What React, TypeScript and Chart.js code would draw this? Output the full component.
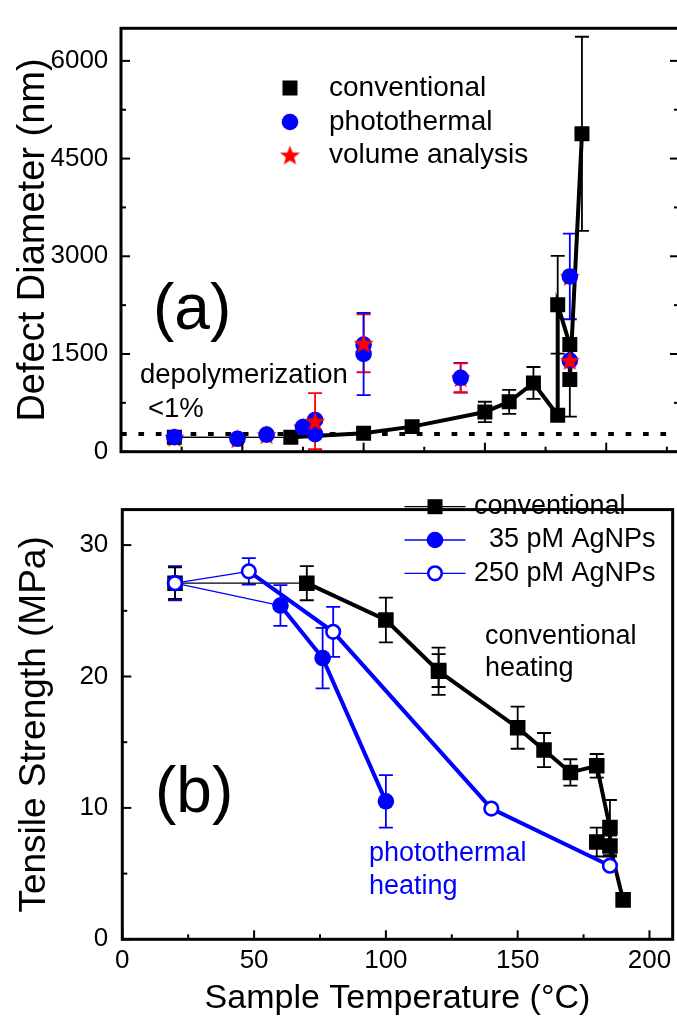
import React, { useEffect, useRef } from 'react';
import { Chart, registerables } from 'chart.js';

Chart.register(...registerables);

const FONT = '"Liberation Sans", Arial, Helvetica, sans-serif';
const BLUE = '#0000ff';
const RED = '#ff0000';
const BLACK = '#000000';

// ---------- Panel (a): defect diameter (nm) vs temperature ----------
const topConvT = [22, 70, 100, 120, 150, 160, 170, 180, 180, 185, 185, 190];
const topConvD = [222, 220, 285, 385, 610, 765, 1055, 560, 2255, 1645, 1110, 4880];
const topConvErr = [0, 0, 0, 0, 157, 185, 245, 0, 750, 0, 573, 1490];

const topPhotoT = [22, 48, 60, 75, 80, 80, 100, 100, 140, 185, 185];
const topPhotoD = [222, 198, 262, 379, 487, 270, 1645, 1500, 1135, 2690, 1400];
const topPhotoErr = [0, 0, 0, 0, 0, 0, 0, 630, 229, 657, 0];

const volBackT = [22, 48, 60, 75, 140, 185];
const volBackD = [222, 198, 262, 379, 1135, 2690];
const volBackErr = [0, 0, 0, 0, 222, 0];

const volFrontT = [80, 100, 185];
const volFrontD = [470, 1665, 1402];
const volFrontErr = [430, 445, 193];

const depolyT = [0, 230];
const depolyD = [270, 270];

const topYTickVals = [0, 1500, 3000, 4500, 6000];
const topYRange = { min: 0, max: 6500 };
const topXRange = { min: 0, max: 230 };

// ---------- Panel (b): tensile strength (MPa) vs temperature ----------
const convT = [20, 70, 100, 120, 150, 160, 170, 180, 185, 185, 190];
const convS = [27.1, 27.1, 24.3, 20.4, 16.1, 14.4, 12.7, 13.2, 8.5, 7.1, 3.0];
const convErr = [1.2, 1.3, 1.7, 1.8, 1.6, 1.3, 1.0, 0.9, 2.1, 0.8, 0];

const convExtraT = [120, 180];
const convExtraS = [20.45, 7.4];
const convExtraErr = [1.25, 1.1];

const np35T = [20, 60, 76, 100];
const np35S = [27.1, 25.4, 21.4, 10.5];
const np35Err = [0, 1.55, 2.3, 2.0];

const np250T = [20, 48, 80, 140, 185];
const np250S = [27.1, 28.0, 23.4, 9.95, 5.6];
const np250Err = [1.3, 1.0, 1.9, 0, 0];

const botYTickVals = [0, 10, 20, 30];
const botYRange = { min: 0, max: 32.7 };
const botXTickVals = [0, 50, 100, 150, 200];
const botXRange = { min: 0, max: 208.8 };

function pts(xs: number[], ys: number[]) {
  return xs.map((x, i) => ({ x, y: ys[i] }));
}

function fixedTicks(vals: number[]) {
  return (s: any) => {
    s.ticks = vals.map((v) => ({ value: v }));
  };
}

function makeStar(outer: number, color: string): HTMLCanvasElement {
  const inner = outer * 0.42;
  const s = Math.ceil(outer * 2 + 2);
  const c = document.createElement('canvas');
  c.width = s;
  c.height = s;
  const g = c.getContext('2d') as CanvasRenderingContext2D;
  g.fillStyle = color;
  g.beginPath();
  for (let k = 0; k < 10; k++) {
    const r = k % 2 === 0 ? outer : inner;
    const a = -Math.PI / 2 + (k * Math.PI) / 5;
    const px = s / 2 + r * Math.cos(a);
    const py = s / 2 + 1 + r * Math.sin(a);
    if (k === 0) g.moveTo(px, py);
    else g.lineTo(px, py);
  }
  g.closePath();
  g.fill();
  return c;
}

const errorBarPlugin = {
  id: 'errbars',
  beforeDatasetsDraw(chart: any) {
    const ctx = chart.ctx;
    const xs = chart.scales.x;
    const ys = chart.scales.y;
    chart.data.datasets.forEach((ds: any) => {
      if (!ds.errors) return;
      ds.data.forEach((p: any, j: number) => {
        const e = ds.errors[j];
        if (!e) return;
        const x = xs.getPixelForValue(p.x);
        const y1 = ys.getPixelForValue(p.y + e);
        const y2 = ys.getPixelForValue(p.y - e);
        const w = 7;
        ctx.save();
        ctx.strokeStyle = ds.errColor;
        ctx.lineWidth = 1.8;
        ctx.beginPath();
        ctx.moveTo(x, y1);
        ctx.lineTo(x, y2);
        ctx.moveTo(x - w, y1);
        ctx.lineTo(x + w, y1);
        ctx.moveTo(x - w, y2);
        ctx.lineTo(x + w, y2);
        ctx.stroke();
        ctx.restore();
      });
    });
  },
};

const framePlugin = {
  id: 'frame',
  afterDatasetsDraw(chart: any, _args: any, opts: any) {
    const { ctx, chartArea: a } = chart;
    const xs = chart.scales.x;
    const ys = chart.scales.y;
    ctx.save();
    ctx.strokeStyle = BLACK;
    ctx.lineWidth = 2;
    const line = (x1: number, y1: number, x2: number, y2: number) => {
      ctx.beginPath();
      ctx.moveTo(x1, y1);
      ctx.lineTo(x2, y2);
      ctx.stroke();
    };
    const isMajor = (v: number, m: number) => Math.abs(v / m - Math.round(v / m)) < 1e-6;
    for (let v = xs.min; v <= xs.max + 1e-9; v += opts.xMinor) {
      const L = isMajor(v, opts.xMajor) ? opts.majorLen : opts.minorLen;
      const px = xs.getPixelForValue(v);
      line(px, a.bottom, px, a.bottom - L);
    }
    for (let v = ys.min; v <= ys.max + 1e-9; v += opts.yMinor) {
      const L = isMajor(v, opts.yMajor) ? opts.majorLen : opts.minorLen;
      const py = ys.getPixelForValue(v);
      line(a.left, py, a.left + L, py);
      if (opts.right) line(a.right, py, a.right - L, py);
    }
    ctx.lineWidth = opts.frameWidth;
    ctx.strokeRect(a.left, a.top, a.right - a.left, a.bottom - a.top);
    ctx.restore();
  },
};

function drawMarker(ctx: CanvasRenderingContext2D, kind: string, x: number, y: number, star: HTMLCanvasElement | null) {
  ctx.save();
  if (kind === 'square') {
    ctx.fillStyle = BLACK;
    ctx.fillRect(x - 7.5, y - 7.5, 15, 15);
  } else if (kind === 'circle') {
    ctx.fillStyle = BLUE;
    ctx.beginPath();
    ctx.arc(x, y, 8.3, 0, Math.PI * 2);
    ctx.fill();
  } else if (kind === 'open') {
    ctx.fillStyle = '#fff';
    ctx.strokeStyle = BLUE;
    ctx.lineWidth = 2.6;
    ctx.beginPath();
    ctx.arc(x, y, 6.8, 0, Math.PI * 2);
    ctx.fill();
    ctx.stroke();
  } else if (kind === 'star' && star) {
    ctx.drawImage(star, x - star.width / 2, y - star.height / 2);
  }
  ctx.restore();
}

const textPlugin = {
  id: 'texts',
  afterDraw(chart: any, _args: any, opts: any) {
    const ctx = chart.ctx;
    (opts.legend || []).forEach((it: any) => {
      if (it.line) {
        ctx.save();
        ctx.strokeStyle = it.lineColor;
        ctx.lineWidth = 1.3;
        ctx.beginPath();
        ctx.moveTo(it.line[0], it.y);
        ctx.lineTo(it.line[1], it.y);
        ctx.stroke();
        ctx.restore();
      }
      drawMarker(ctx, it.marker, it.mx, it.y, opts.star || null);
    });
    (opts.items || []).forEach((it: any) => {
      ctx.save();
      ctx.font = `${it.size}px ${FONT}`;
      ctx.fillStyle = it.color || BLACK;
      ctx.textAlign = 'left';
      ctx.textBaseline = 'middle';
      ctx.fillText(it.text, it.x, it.y);
      ctx.restore();
    });
  },
};

const numLabel = (v: any) => String(v);

export default function App() {
  const topRef = useRef<HTMLCanvasElement>(null);
  const botRef = useRef<HTMLCanvasElement>(null);

  useEffect(() => {
    const star = makeStar(10.5, RED);
    const thinFirst = (thin: number, thick: number) => (c: any) => (c.p0DataIndex === 0 ? thin : thick);

    const top = new Chart(topRef.current as HTMLCanvasElement, {
      type: 'line',
      data: {
        datasets: [
          {
            label: 'volume analysis',
            data: pts(volFrontT, volFrontD),
            errors: volFrontErr,
            errColor: RED,
            showLine: false,
            pointStyle: star,
            pointRadius: 10,
            order: 0,
          } as any,
          {
            label: 'photothermal',
            data: pts(topPhotoT, topPhotoD),
            errors: topPhotoErr,
            errColor: BLUE,
            showLine: false,
            pointStyle: 'circle',
            pointRadius: 8.3,
            pointBackgroundColor: BLUE,
            pointBorderWidth: 0,
            order: 1,
          } as any,
          {
            label: 'conventional',
            data: pts(topConvT, topConvD),
            errors: topConvErr,
            errColor: BLACK,
            borderColor: BLACK,
            borderWidth: 4,
            segment: { borderWidth: thinFirst(1.3, 4) },
            pointStyle: 'rect',
            pointRadius: 10.6,
            pointBackgroundColor: BLACK,
            pointBorderWidth: 0,
            tension: 0,
            order: 2,
          } as any,
          {
            label: 'volume analysis (behind)',
            data: pts(volBackT, volBackD),
            errors: volBackErr,
            errColor: RED,
            showLine: false,
            pointStyle: star,
            pointRadius: 10,
            order: 3,
          } as any,
          {
            label: 'depolymerization <1%',
            data: pts(depolyT, depolyD),
            borderColor: BLACK,
            borderWidth: 4,
            borderDash: [5.7, 11.7],
            borderCapStyle: 'butt',
            pointRadius: 0,
            order: 4,
          } as any,
        ],
      },
      options: {
        responsive: false,
        animation: false,
        events: [],
        layout: { padding: { left: 0, top: 14.7, right: 11, bottom: 0 }, autoPadding: false } as any,
        plugins: {
          legend: { display: false },
          tooltip: { enabled: false },
          frame: { xMajor: 50, xMinor: 25, yMajor: 1500, yMinor: 750, majorLen: 9, minorLen: 5, frameWidth: 3, right: true },
          texts: {
            star,
            items: [
              { text: '(a)', x: 153, y: 311, size: 64 },
              { text: 'depolymerization', x: 140, y: 375, size: 27.5 },
              { text: '<1%', x: 148, y: 409, size: 27.5 },
              { text: 'conventional', x: 329, y: 88, size: 28 },
              { text: 'photothermal', x: 329, y: 122, size: 28 },
              { text: 'volume analysis', x: 329, y: 155, size: 28 },
            ],
            legend: [
              { marker: 'square', mx: 290, y: 88 },
              { marker: 'circle', mx: 290, y: 122 },
              { marker: 'star', mx: 290, y: 155 },
            ],
          },
        } as any,
        scales: {
          x: {
            type: 'linear',
            min: topXRange.min,
            max: topXRange.max,
            grid: { display: false, drawTicks: false },
            border: { display: false },
            ticks: { display: false },
            afterFit: (s: any) => {
              s.height = 16.3;
            },
          },
          y: {
            type: 'linear',
            min: topYRange.min,
            max: topYRange.max,
            grid: { display: false, drawTicks: false },
            border: { display: false },
            afterBuildTicks: fixedTicks(topYTickVals),
            ticks: {
              padding: 12.7,
              color: BLACK,
              font: { family: FONT, size: 26 },
              callback: numLabel,
            },
            title: {
              display: true,
              text: 'Defect Diameter (nm)',
              color: BLACK,
              font: { family: FONT, size: 38 },
              padding: { top: 11, bottom: 0 },
            },
            afterFit: (s: any) => {
              s.width = 121;
            },
          },
        } as any,
      },
      plugins: [errorBarPlugin, framePlugin, textPlugin],
    });

    const bot = new Chart(botRef.current as HTMLCanvasElement, {
      type: 'line',
      data: {
        datasets: [
          {
            label: '250 pM AgNPs',
            data: pts(np250T, np250S),
            errors: np250Err,
            errColor: BLUE,
            borderColor: BLUE,
            borderWidth: 4,
            segment: { borderWidth: thinFirst(1.3, 4) },
            pointStyle: 'circle',
            pointRadius: 6.8,
            pointBackgroundColor: '#ffffff',
            pointBorderColor: BLUE,
            pointBorderWidth: 2.6,
            tension: 0,
            order: 0,
          } as any,
          {
            label: '35 pM AgNPs',
            data: pts(np35T, np35S),
            errors: np35Err,
            errColor: BLUE,
            borderColor: BLUE,
            borderWidth: 4,
            segment: { borderWidth: thinFirst(1.3, 4) },
            pointStyle: 'circle',
            pointRadius: 8.3,
            pointBackgroundColor: BLUE,
            pointBorderWidth: 0,
            tension: 0,
            order: 1,
          } as any,
          {
            label: 'conventional',
            data: pts(convT, convS),
            errors: convErr,
            errColor: BLACK,
            borderColor: BLACK,
            borderWidth: 4,
            segment: { borderWidth: thinFirst(1.3, 4) },
            pointStyle: 'rect',
            pointRadius: 11,
            pointBackgroundColor: BLACK,
            pointBorderWidth: 0,
            tension: 0,
            order: 2,
          } as any,
          {
            label: 'conventional (repeat)',
            data: pts(convExtraT, convExtraS),
            errors: convExtraErr,
            errColor: BLACK,
            showLine: false,
            pointStyle: 'rect',
            pointRadius: 11,
            pointBackgroundColor: BLACK,
            pointBorderWidth: 0,
            order: 3,
          } as any,
        ],
      },
      options: {
        responsive: false,
        animation: false,
        events: [],
        layout: { padding: { left: 0, top: 12.5, right: 3.3, bottom: 0 }, autoPadding: false } as any,
        plugins: {
          legend: { display: false },
          tooltip: { enabled: false },
          frame: { xMajor: 50, xMinor: 25, yMajor: 10, yMinor: 5, majorLen: 9, minorLen: 5, frameWidth: 3, right: false },
          texts: {
            items: [
              { text: '(b)', x: 155, y: 314, size: 64 },
              { text: 'conventional', x: 485, y: 156.7, size: 27 },
              { text: 'heating', x: 485, y: 188.3, size: 27 },
              { text: 'photothermal', x: 369, y: 373.3, size: 27, color: BLUE },
              { text: 'heating', x: 369, y: 406.7, size: 27, color: BLUE },
              { text: 'conventional', x: 474, y: 26.7, size: 27 },
              { text: '35 pM AgNPs', x: 489, y: 60, size: 27 },
              { text: '250 pM AgNPs', x: 474, y: 93.3, size: 27 },
            ],
            legend: [
              { marker: 'square', mx: 435, y: 26.7, line: [404.5, 465.5], lineColor: BLACK },
              { marker: 'circle', mx: 435, y: 60, line: [404.5, 465.5], lineColor: BLUE },
              { marker: 'open', mx: 435, y: 93.3, line: [404.5, 465.5], lineColor: BLUE },
            ],
          },
        } as any,
        scales: {
          x: {
            type: 'linear',
            min: botXRange.min,
            max: botXRange.max,
            grid: { display: false, drawTicks: false },
            border: { display: false },
            afterBuildTicks: fixedTicks(botXTickVals),
            ticks: {
              autoSkip: false,
              maxRotation: 0,
              padding: 5.7,
              color: BLACK,
              font: { family: FONT, size: 26 },
              callback: numLabel,
            },
            title: {
              display: true,
              text: 'Sample Temperature (°C)',
              color: BLACK,
              font: { family: FONT, size: 34, lineHeight: 1 },
              padding: { top: 0, bottom: 2 },
            },
            afterFit: (s: any) => {
              s.height = 78.7;
            },
          },
          y: {
            type: 'linear',
            min: botYRange.min,
            max: botYRange.max,
            grid: { display: false, drawTicks: false },
            border: { display: false },
            afterBuildTicks: fixedTicks(botYTickVals),
            ticks: {
              padding: 14,
              color: BLACK,
              font: { family: FONT, size: 26 },
              callback: numLabel,
            },
            title: {
              display: true,
              text: 'Tensile Strength (MPa)',
              color: BLACK,
              font: { family: FONT, size: 37 },
              padding: { top: 13, bottom: 0 },
            },
            afterFit: (s: any) => {
              s.width = 122.3;
            },
          },
        } as any,
      },
      plugins: [errorBarPlugin, framePlugin, textPlugin],
    });

    return () => {
      top.destroy();
      bot.destroy();
    };
  }, []);

  return (
    <div
      style={{
        position: 'absolute',
        left: 0,
        top: 0,
        width: 677,
        height: 1018,
        overflow: 'hidden',
        background: '#ffffff',
      }}
    >
      <canvas
        ref={topRef}
        width={690}
        height={480}
        style={{ position: 'absolute', left: 0, top: 0, width: 690, height: 480 }}
      />
      <canvas
        ref={botRef}
        width={677}
        height={538}
        style={{ position: 'absolute', left: 0, top: 480, width: 677, height: 538 }}
      />
    </div>
  );
}
